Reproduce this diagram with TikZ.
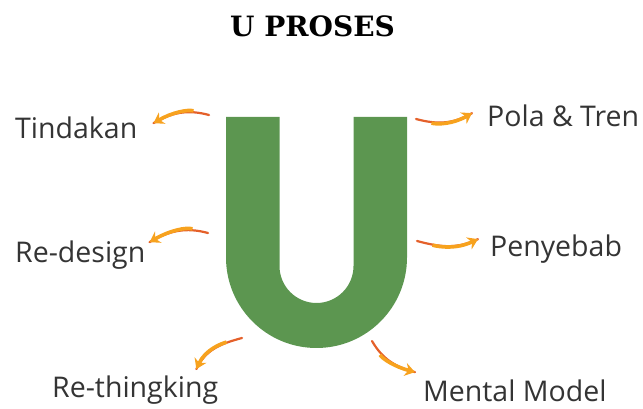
\documentclass[tikz,border=0pt]{standalone}
\usepackage{fontspec}
\usepackage{tikz}
\usetikzlibrary{positioning, arrows.meta}
\newfontfamily\lblfont{Open Sans}
\newfontfamily\ttlfont{DejaVu Serif}
\definecolor{ugreen}{RGB}{92,150,80}
\definecolor{lblgray}{RGB}{52,52,52}
\definecolor{arrowred}{RGB}{228,96,42}
\definecolor{arroworange}{RGB}{247,162,30}
\tikzset{
    ubody/.style={fill=ugreen, draw=none},
    lbl/.style={font=\lblfont\fontsize{28.5}{31}\selectfont, text=lblgray, inner sep=0pt, anchor=base west},
    swoosh/.style={draw=arrowred, line width=2.2pt, line cap=round},
    swooshhead/.style={draw=arroworange, line width=3.6pt, shorten <=16pt, -{Stealth[length=10pt, width=13pt]}}
}

\begin{document}
\begin{tikzpicture}[x=1pt, y=1pt]
    \useasboundingbox (0,0) rectangle (643,409);
    % Title
    \node (title) [font=\ttlfont\bfseries\fontsize{28}{31}\selectfont, inner sep=0pt, anchor=base] at (312.5,372) {U PROSES};
    % The U
    \path [ubody] (226,292) -- (226,151.5) arc [start angle=180, end angle=360, radius=90.5]
        -- (407,292) -- (353.5,292) -- (353.5,143) arc [start angle=0, end angle=-180, radius=37]
        -- (279.5,292) -- cycle;
    % Labels
    \node (tind) [lbl] at (15,270) {Tindakan};
    \node (redes) [lbl] at (15,146) {Re-design};
    \node (rethink) [lbl] at (52,11) {Re-thingking};
    \node (pola) [lbl] at (487,282) {Pola \& Tren};
    \node (sebab) [lbl] at (490,152) {Penyebab};
    \node (mental) [lbl] at (423,7) {Mental Model};
    % Arrow ends
    \coordinate (tTind) at (209,294);
    \coordinate (tRedes) at (208,176);
    \coordinate (tRethink) at (242,71);
    \coordinate (tPola) at (416,290);
    \coordinate (tSebab) at (417,168);
    \coordinate (tMental) at (372,68);
    \coordinate (hTind) at ([xshift=16pt, yshift=-6pt]tind.north east);
    \coordinate (hRedes) at ([xshift=4pt, yshift=-1pt]redes.north east);
    \coordinate (hRethink) at ([xshift=-22pt, yshift=7pt]rethink.north east);
    \coordinate (hPola) at ([xshift=-15pt, yshift=-8pt]pola.north west);
    \coordinate (hSebab) at ([xshift=-12pt, yshift=-4pt]sebab.north west);
    \coordinate (hMental) at ([xshift=-8pt, yshift=8pt]mental.north west);
    % Arrows
    \foreach \a/\b/\o/\i in {tTind/hTind/165/30, tRedes/hRedes/165/30, tPola/hPola/-15/210,
        tSebab/hSebab/-15/205, tRethink/hRethink/195/65, tMental/hMental/-60/165} {
        \draw [swoosh] (\a) to [out=\o, in=\i] (\b);
        \draw [swooshhead] (\a) to [out=\o, in=\i] (\b);
    }
\end{tikzpicture}
\end{document}
